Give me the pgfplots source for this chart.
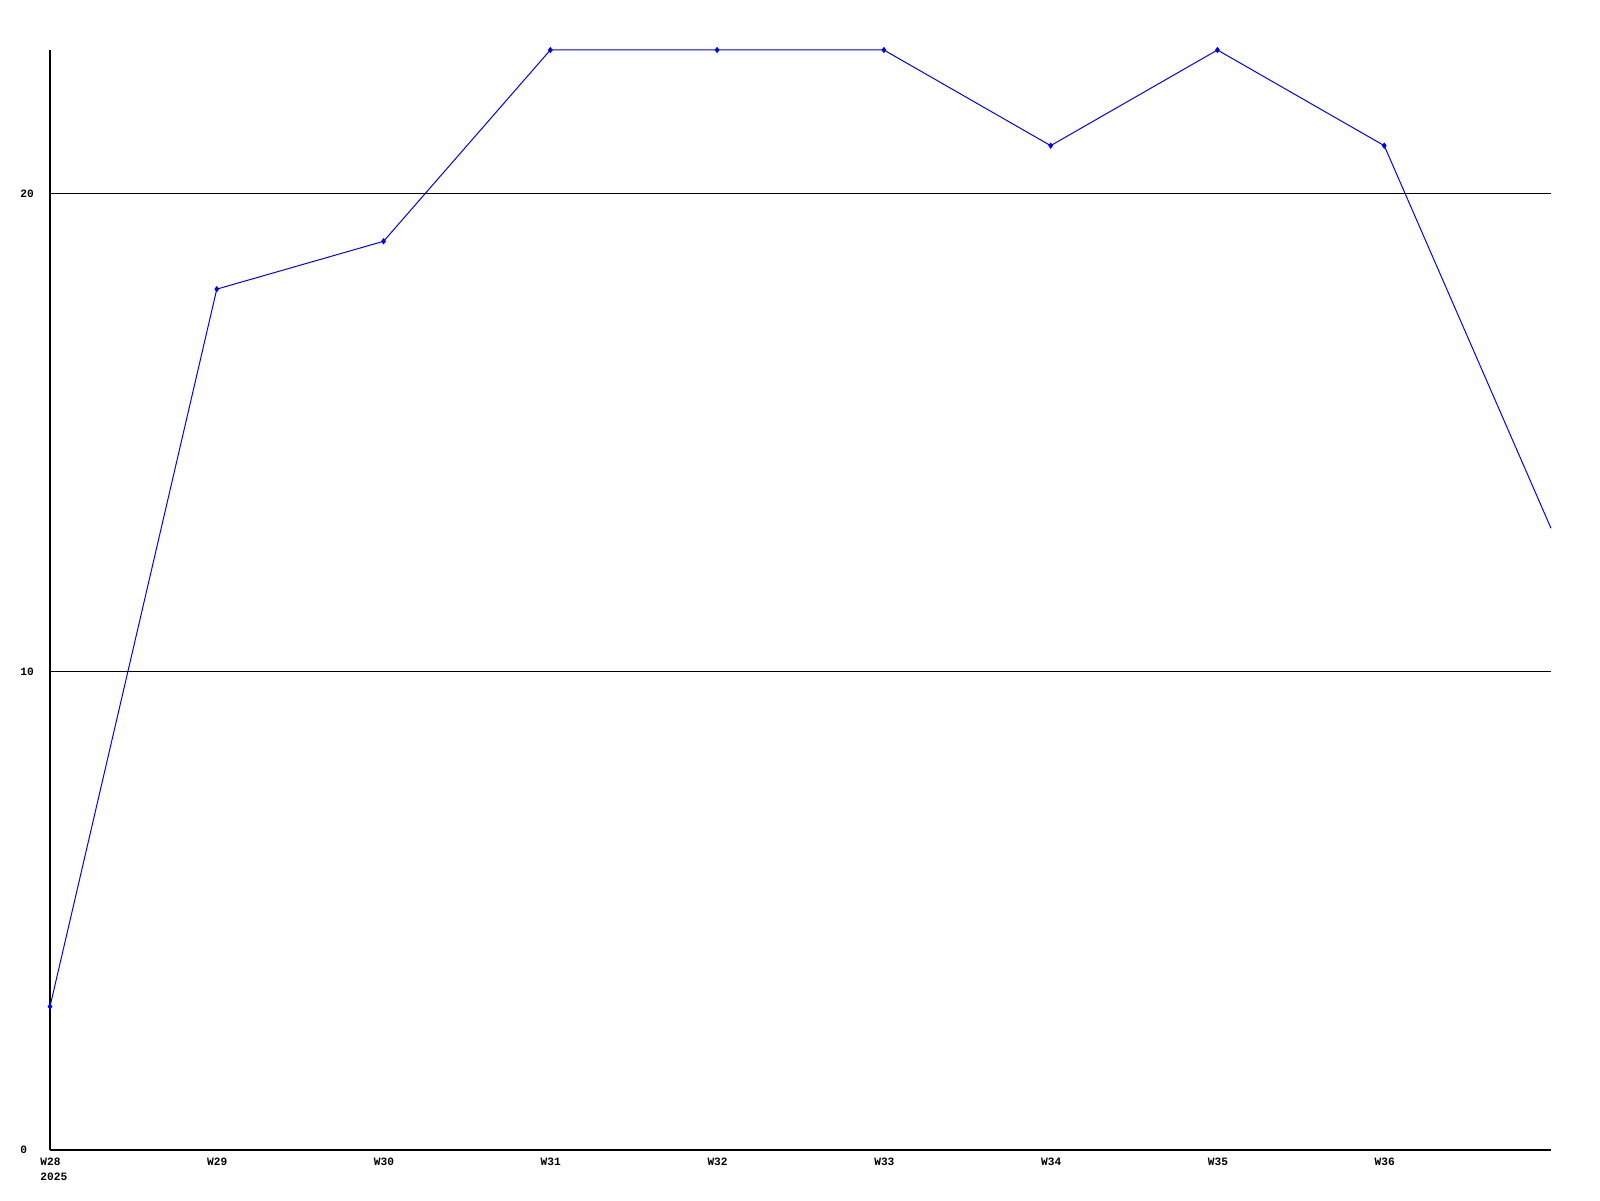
\documentclass[border=0pt]{standalone}
\usepackage{pgfplots}
\pgfplotsset{compat=1.18}
\usepackage{fontspec}
\setmainfont{Liberation Mono}
\begin{document}
\begin{tikzpicture}[x=1pt,y=1pt]
\path[use as bounding box, fill=white] (0,0) rectangle (800,600);
\begin{axis}[
  at={(25pt,25pt)}, anchor=south west,
  scale only axis, width=750.5pt, height=550pt,
  xmin=0, xmax=9, ymin=0, ymax=23,
  enlargelimits=false, clip=false,
  axis x line=bottom, axis y line=left,
  axis line style={-, line width=0.55pt, black},
  ytick={0,10,20}, xtick={0,1,2,3,4,5,6,7,8},
  xticklabels={{W28\\2025},W29,W30,W31,W32,W33,W34,W35,W36},
  major tick length=0pt,
  ymajorgrids, grid style={black, line width=0.5pt},
  /pgf/number format/assume math mode=true,
  ticklabel style={font=\fontsize{5.6pt}{7.5pt}\selectfont\bfseries, inner sep=0pt},
  xticklabel style={anchor=north west, align=left, xshift=-5pt, yshift=-4pt},
  yticklabel style={anchor=west, xshift=-15pt},
]
\addplot[blue, line width=0.5pt, mark=diamond*, mark size=1.2pt, mark options={solid, fill=blue}, mark indices={1,2,3,4,5,6,7,8,9}]
coordinates {(0,3) (1,18) (2,19) (3,23) (4,23) (5,23) (6,21) (7,23) (8,21) (9,13)};
\end{axis}
\end{tikzpicture}
\end{document}
